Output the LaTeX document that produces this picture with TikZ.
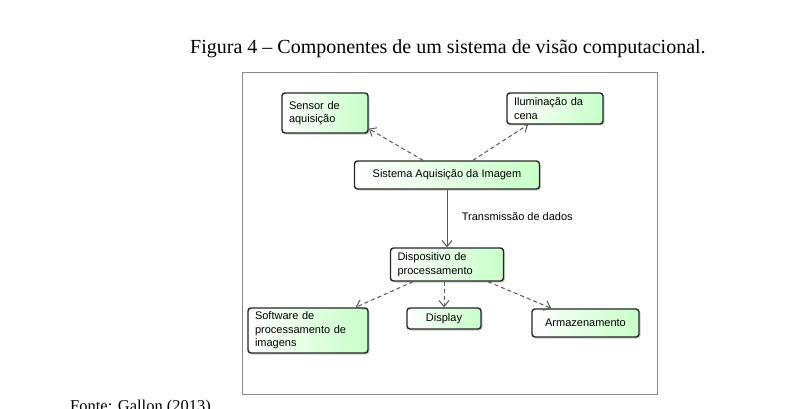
\documentclass[tikz,border=0pt]{standalone}
\usepackage{fontspec}
\setmainfont{Liberation Serif}
\setsansfont{Liberation Sans}
\usetikzlibrary{positioning,arrows.meta,shadows}

\tikzset{
	comp/.style = {draw=black!85, line width=1.4pt, rounded corners=3pt,
		left color=white, right color=green!22, inner xsep=7pt, inner ysep=0pt,
		drop shadow={opacity=0.4, shadow xshift=1.5pt, shadow yshift=-1.5pt},
		font=\sffamily\fontsize{11}{13.5}\selectfont},
	link/.style = {draw=black!65, line width=1pt,
		-{Straight Barb[length=6pt,width=10pt]}},
	dep/.style  = {link, dashed, dash pattern=on 4pt off 3pt}
}

\begin{document}
\begin{tikzpicture}[x=1pt,y=-1pt]
		\useasboundingbox[fill=white] (0,0) rectangle (797,409);
		\node[anchor=base west, inner sep=0pt, font=\fontsize{20}{22}\selectfont] (titulo) at (190,54)
		{Figura 4 -- Componentes de um sistema de visão computacional.};
		\node[anchor=base west, inner sep=0pt, font=\fontsize{16.5}{18}\selectfont] (fonte) at (70,411)
		{Fonte: Gallon (2013)};
		\draw[draw=black!45, line width=1pt] (242,73) rectangle (657,394);

		\node[comp, minimum width=86pt, minimum height=40pt, text width=72pt, align=left]
		(sensor) at (325,113) {Sensor de\\aquisição};
		\node[comp, minimum width=96pt, minimum height=31pt, text width=82pt, align=left]
		(ilum) at (555,108.5) {Iluminação da\\cena};
		\node[comp, minimum width=185pt, minimum height=28pt, align=center]
		(sistema) at (447,175) {Sistema Aquisição da Imagem};
		\node[comp, minimum width=113pt, minimum height=33pt, text width=99pt, align=left]
		(disp) at (447,264.5) {Dispositivo de\\processamento};
		\node[comp, minimum width=120pt, minimum height=45pt, text width=106pt, align=left]
		(soft) at (308,330.5) {Software de\\processamento de\\imagens};
		\node[comp, minimum width=74pt, minimum height=21pt, align=center]
		(display) at (444,318.5) {Display};
		\node[comp, minimum width=107pt, minimum height=28pt, align=center]
		(armaz) at (585.5,323) {Armazenamento};

		\path
		([xshift=-24pt]sistema.north) edge [dep] ([yshift=5pt]sensor.south east)
		([xshift=26pt]sistema.north) edge [dep] ([xshift=-27pt]ilum.south)
		(sistema) edge [link] node [right=11pt, pos=0.47,
		font=\sffamily\fontsize{11}{13}\selectfont] {Transmissão de dados} (disp)
		([xshift=-34pt]disp.south) edge [dep] ([xshift=-13pt]soft.north east)
		([xshift=-3pt]disp.south) edge [dep] (display.north)
		([xshift=41pt]disp.south) edge [dep] ([xshift=20pt]armaz.north west);
\end{tikzpicture}
\end{document}
